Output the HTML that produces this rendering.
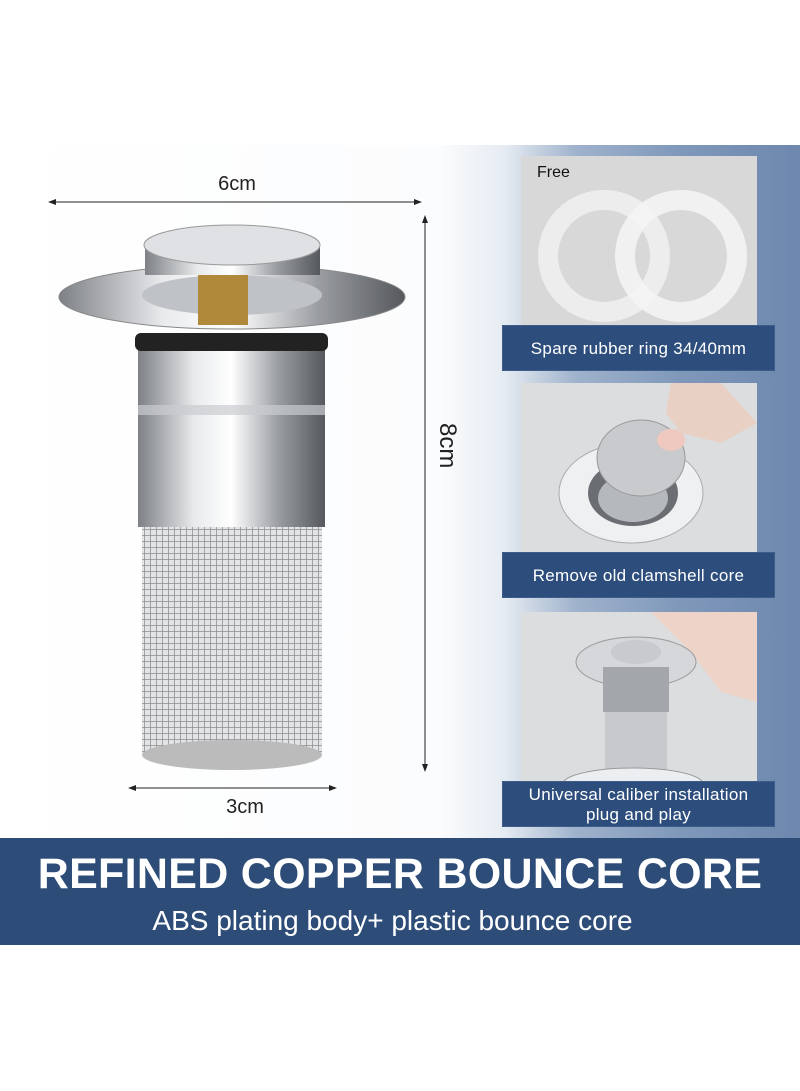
<!DOCTYPE html>
<html><head><style>
body{margin:0;width:800px;height:1091px;background:#fff;position:relative;overflow:hidden;font-family:"Liberation Sans",sans-serif}
.main{position:absolute;left:0;top:145px;width:800px;height:693px;background:linear-gradient(90deg,#fff 0%,#fbfcfd 55%,#e6ecf3 63%,#9fb2cc 72%,#7f98ba 85%,#6d87ae 100%)}
.img{position:absolute;background:#d9d9d9;overflow:hidden}
.bar{position:absolute;left:502px;width:273px;background:#2d4e7c;color:#fff;font-size:17px;text-align:center;box-sizing:border-box;border:1px solid #3c5c8a;letter-spacing:.3px}
.banner{position:absolute;left:0;top:838px;width:800px;height:107px;background:#2d4c78;color:#fff}
</style></head><body>
<div class="main"></div>
<div class="img" style="left:521px;top:156px;width:236px;height:170px;background:#d8d8d8">
<svg width="236" height="170">
<circle cx="83" cy="100" r="56" fill="none" stroke="#f0f0f0" stroke-width="20" opacity=".9"/>
<circle cx="160" cy="100" r="56" fill="none" stroke="#f4f4f4" stroke-width="20" opacity=".9"/>
</svg></div>
<div style="position:absolute;left:537px;top:164px;font-size:16px;color:#111">Free</div>
<div class="bar" style="top:325px;height:46px;line-height:46px">Spare rubber ring 34/40mm</div>
<div class="img" style="left:521px;top:383px;width:236px;height:170px;background:#dcdddf">
<svg width="236" height="170">
<ellipse cx="110" cy="110" rx="72" ry="50" fill="#eef0f2" stroke="#aaa"/>
<ellipse cx="112" cy="110" rx="45" ry="33" fill="#6a6d72"/>
<ellipse cx="112" cy="115" rx="35" ry="24" fill="#b5b8bd"/>
<ellipse cx="120" cy="75" rx="44" ry="38" fill="#c8cacd" stroke="#999"/>
<path d="M150 0 L200 0 L236 40 L200 60 L160 50 L145 30Z" fill="#e9d0c4"/>
<ellipse cx="150" cy="57" rx="14" ry="11" fill="#efc9bf"/>
</svg></div>
<div class="bar" style="top:552px;height:46px;line-height:46px">Remove old clamshell core</div>
<div class="img" style="left:521px;top:612px;width:236px;height:170px;background:#dcdddf">
<svg width="236" height="170">
<path d="M130 0 L236 0 L236 90 L200 80 L170 40Z" fill="#edd3c8"/>
<ellipse cx="115" cy="50" rx="60" ry="25" fill="#d5d7da" stroke="#999"/>
<ellipse cx="115" cy="40" rx="25" ry="12" fill="#c8cacd"/>
<rect x="82" y="55" width="66" height="45" fill="#a3a6aa"/>
<rect x="84" y="100" width="62" height="70" fill="#c7c9cc"/>
<ellipse cx="112" cy="172" rx="70" ry="16" fill="#eceff2" stroke="#999"/>
</svg></div>
<div class="bar" style="top:781px;height:46px;line-height:20px;padding-top:3px">Universal caliber installation<br>plug and play</div>

<svg style="position:absolute;left:0;top:145px" width="480" height="693">
<defs>
<linearGradient id="m" x1="0" x2="1"><stop offset="0" stop-color="#7d8085"/><stop offset=".3" stop-color="#e8eaec"/><stop offset=".5" stop-color="#fff"/><stop offset=".75" stop-color="#9a9da2"/><stop offset="1" stop-color="#55585d"/></linearGradient>
<pattern id="mesh" width="6" height="6" patternUnits="userSpaceOnUse"><rect width="6" height="6" fill="#e3e4e6"/><path d="M0 0H6M0 0V6" stroke="#8a8c90" stroke-width="1.5"/></pattern>
</defs>
<g stroke="#222" fill="#222">
<line x1="50" y1="57" x2="420" y2="57"/><path d="M48 57l8-3v6z M422 57l-8-3v6z" stroke="none"/>
<line x1="425" y1="72" x2="425" y2="625"/><path d="M425 70l-3 8h6z M425 627l-3-8h6z" stroke="none"/>
<line x1="130" y1="643" x2="335" y2="643"/><path d="M128 643l8-3v6z M337 643l-8-3v6z" stroke="none"/>
</g>
<text x="237" y="45" font-size="20" text-anchor="middle" fill="#222">6cm</text>
<text x="0" y="0" font-size="24" fill="#222" transform="translate(440 278) rotate(90)">8cm</text>
<text x="245" y="668" font-size="20" text-anchor="middle" fill="#222">3cm</text>
<rect x="142" y="380" width="180" height="230" fill="url(#mesh)"/>
<ellipse cx="232" cy="610" rx="90" ry="15" fill="#bbb"/>
<rect x="138" y="200" width="187" height="182" fill="url(#m)"/>
<rect x="138" y="260" width="187" height="10" fill="#c9ccd0" opacity=".7"/>
<rect x="135" y="188" width="193" height="18" fill="#222" rx="6"/>
<ellipse cx="232" cy="152" rx="173" ry="32" fill="url(#m)" stroke="#888"/>
<ellipse cx="232" cy="150" rx="90" ry="20" fill="#bfc2c6"/>
<rect x="198" y="130" width="50" height="50" fill="#b08a3a"/>
<rect x="145" y="100" width="175" height="30" fill="url(#m)"/>
<ellipse cx="232" cy="100" rx="88" ry="20" fill="#dfe1e4" stroke="#999"/>
</svg>

<div class="banner">
<div style="position:absolute;left:0;width:800px;top:12px;text-align:center;font-size:43px;font-weight:bold;letter-spacing:.3px">REFINED COPPER BOUNCE CORE</div>
<div style="position:absolute;left:0;width:785px;top:67px;text-align:center;font-size:28px">ABS plating body+ plastic bounce core</div>
</div>
</body></html>
